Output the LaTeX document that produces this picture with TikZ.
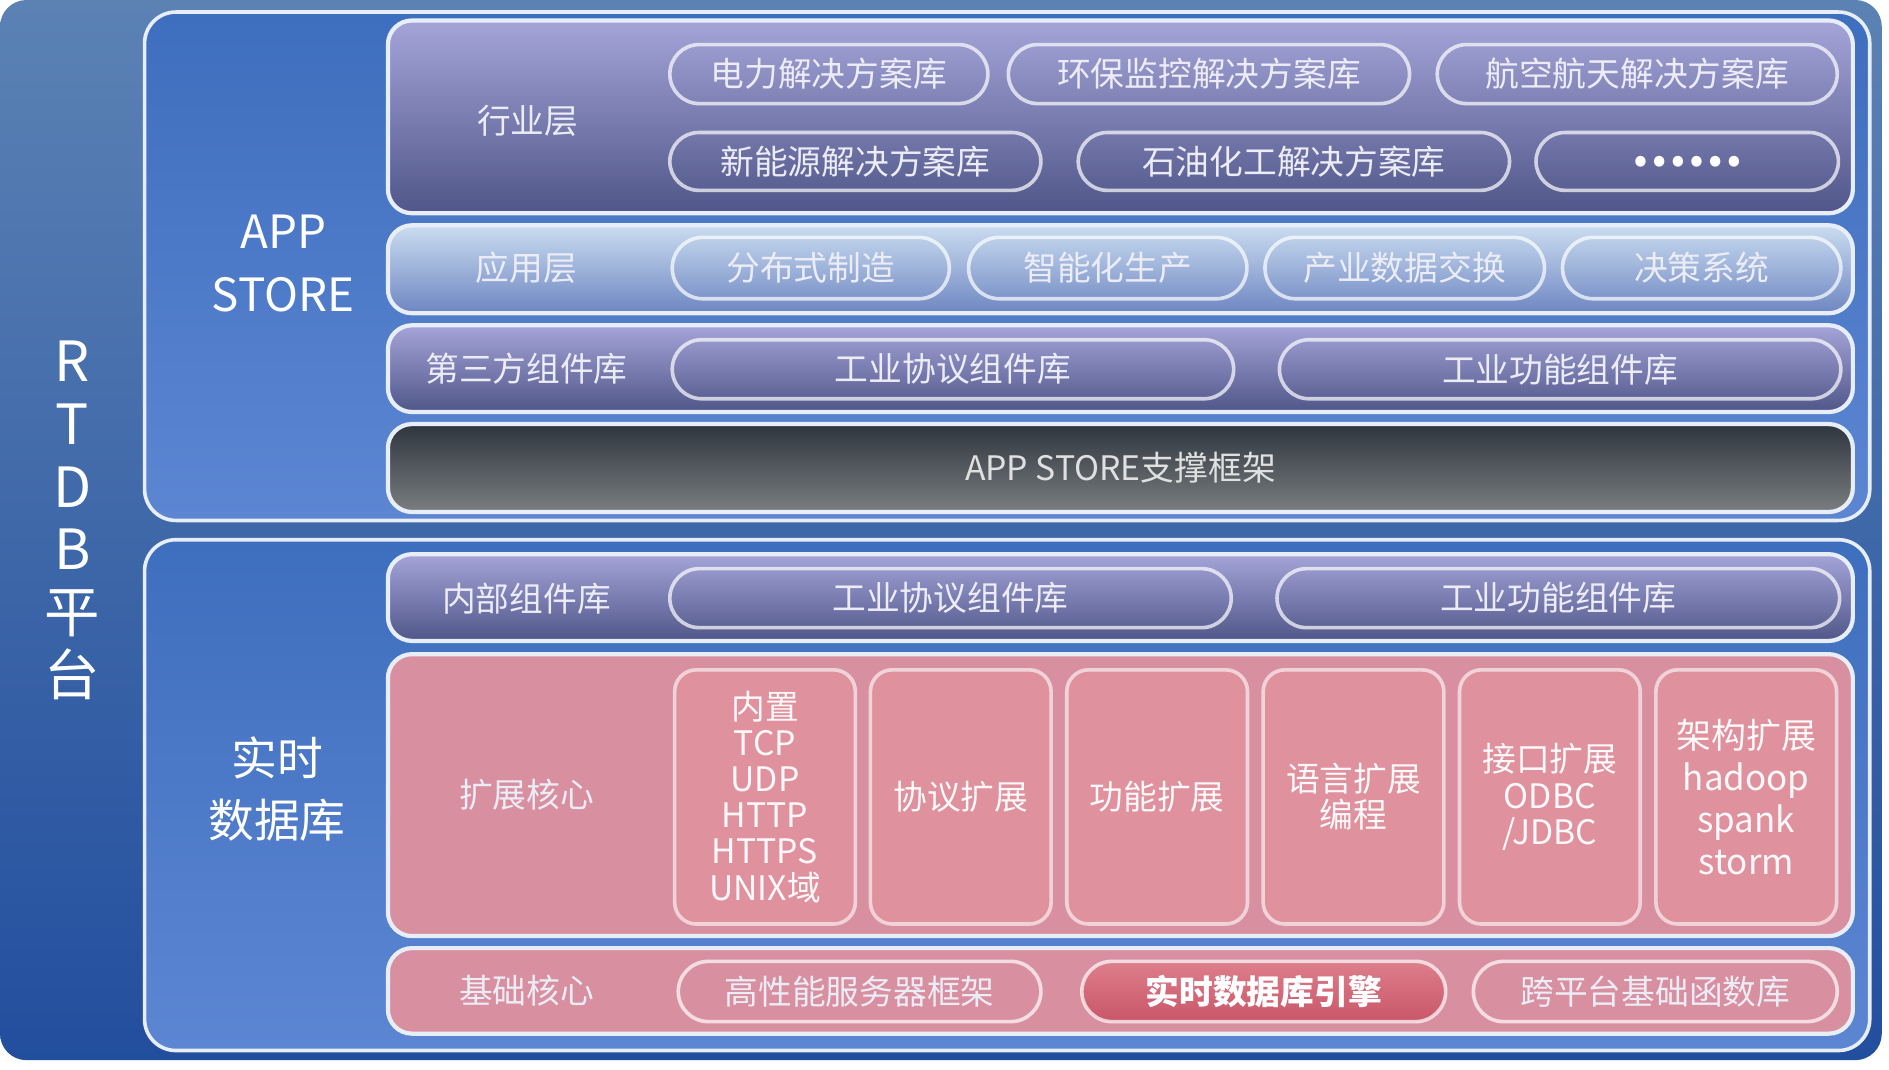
\documentclass[tikz,border=0pt]{standalone}
\usepackage{fontspec}
\setmainfont{Noto Sans CJK SC}
\usetikzlibrary{shapes.misc}
\definecolor{rtdbtop}{RGB}{92,130,180}
\definecolor{rtdbbottom}{RGB}{34,78,158}
\definecolor{paneltop}{RGB}{62,110,190}
\definecolor{panelbottom}{RGB}{92,134,210}
\definecolor{purpletop}{RGB}{164,164,216}
\definecolor{purplebottom}{RGB}{80,86,137}
\definecolor{apptop}{RGB}{202,221,240}
\definecolor{appbottom}{RGB}{110,134,194}
\definecolor{darktop}{RGB}{46,53,62}
\definecolor{darkbottom}{RGB}{122,126,128}
\definecolor{pinkrow}{RGB}{216,144,160}
\definecolor{pinkbox}{RGB}{224,145,158}
\definecolor{enginetop}{RGB}{222,126,140}
\definecolor{enginebottom}{RGB}{200,86,104}
\definecolor{linewhite}{RGB}{232,238,248}
\definecolor{labeltext}{RGB}{236,236,246}

\begin{document}
\begin{tikzpicture}[x=1pt,y=-1pt]
  \useasboundingbox (0,0) rectangle (1568,888);

	 \tikzstyle{frame}=[rectangle,rounded corners=22pt,top color=rtdbtop,bottom color=rtdbbottom,minimum width=1562pt,minimum height=880pt,inner sep=0pt]
	 \tikzstyle{panel}=[rectangle,rounded corners=26pt,draw=linewhite,line width=3pt,top color=paneltop,bottom color=panelbottom,minimum width=1432pt,inner sep=0pt]
	 \tikzstyle{row}=[rectangle,rounded corners=20pt,draw=linewhite,line width=3.5pt,minimum width=1216pt,inner sep=0pt]
	 \tikzstyle{purplerow}=[row,top color=purpletop,bottom color=purplebottom]
	 \tikzstyle{approw}=[row,top color=apptop,bottom color=appbottom]
	 \tikzstyle{darkrow}=[row,top color=darktop,bottom color=darkbottom,text=white!88!black,font=\fontsize{28}{30}\selectfont]
	 \tikzstyle{pinkrow}=[row,fill=pinkrow]
	 \tikzstyle{pill}=[rounded rectangle,draw=white,draw opacity=0.7,line width=3pt,inner sep=0pt,text=labeltext,font=\fontsize{28}{30}\selectfont]
	 \tikzstyle{extbox}=[rectangle,rounded corners=18pt,draw=white,draw opacity=0.6,line width=3pt,fill=pinkbox,minimum width=150pt,minimum height=211pt,inner sep=0pt,text=white!95!pinkbox,align=center,font=\fontsize{28}{30}\selectfont]
	 \tikzstyle{rowlabel}=[text=labeltext,font=\fontsize{28}{30}\selectfont]
	 \tikzstyle{panellabel}=[text=white,align=center,font=\fontsize{38}{52}\selectfont]

	 % outer platform frame
	 \node[frame] (rtdb) at (781,440) {};
	 \node[text=white,align=center,font=\fontsize{46}{52}\selectfont] (rtdblabel) at (60,432) {R\\T\\D\\B\\平\\台};

	 % APP STORE
	 \node[panel,minimum height=422pt] (appstore) at (836,221) {};
	 \node[panellabel] (appstorelabel) at (235,219) {APP\\STORE};

	 \node[purplerow,minimum height=160pt] (industry) at (930,97) {};
	 \node[rowlabel] (industrylabel) at (438,100) {行业层};
	 \node[pill,minimum width=264pt,minimum height=49pt] (power) at (688,61.5) {电力解决方案库};
	 \node[pill,minimum width=333pt,minimum height=49pt] (environ) at (1003.5,61.5) {环保监控解决方案库};
	 \node[pill,minimum width=332pt,minimum height=49pt] (aero) at (1359,61.5) {航空航天解决方案库};
	 \node[pill,minimum width=308pt,minimum height=48pt] (newenergy) at (710,134) {新能源解决方案库};
	 \node[pill,minimum width=358pt,minimum height=48pt] (petro) at (1074,134) {石油化工解决方案库};
	 \node[pill,minimum width=251pt,minimum height=48pt,text=white,font=\bfseries\fontsize{41}{41}\selectfont] (more) at (1400.5,134) {……};

	 \node[approw,minimum height=73pt] (application) at (930,223.5) {};
	 \node[rowlabel] (applicationlabel) at (437,222) {应用层};
	 \node[pill,minimum width=230pt,minimum height=51pt] (distributed) at (673,222.5) {分布式制造};
	 \node[pill,minimum width=231pt,minimum height=51pt] (smart) at (919.5,222.5) {智能化生产};
	 \node[pill,minimum width=232pt,minimum height=51pt] (exchange) at (1166,222.5) {产业数据交换};
	 \node[pill,minimum width=231pt,minimum height=51pt] (decision) at (1412.5,222.5) {决策系统};

	 \node[purplerow,minimum height=72pt] (thirdparty) at (930,306) {};
	 \node[rowlabel] (thirdpartylabel) at (437,306) {第三方组件库};
	 \node[pill,minimum width=466pt,minimum height=49pt] (tpprotocol) at (791,306.5) {工业协议组件库};
	 \node[pill,minimum width=466pt,minimum height=49pt] (tpfunction) at (1295,306.5) {工业功能组件库};

	 \node[darkrow,minimum height=73pt] (framework) at (930,388.5) {APP STORE支撑框架};

	 % real-time database
	 \node[panel,minimum height=424pt] (rtdatabase) at (836,660) {};
	 \node[panellabel] (rtdatabaselabel) at (230,655) {实时\\数据库};

	 \node[purplerow,minimum height=72pt] (internal) at (930,496) {};
	 \node[rowlabel] (internallabel) at (437,497) {内部组件库};
	 \node[pill,minimum width=466pt,minimum height=49pt] (inprotocol) at (789,496.5) {工业协议组件库};
	 \node[pill,minimum width=467pt,minimum height=49pt] (infunction) at (1293.5,496.5) {工业功能组件库};

	 \node[pinkrow,minimum height=234pt] (extcore) at (930,660) {};
	 \node[rowlabel] (extcorelabel) at (437,660) {扩展核心};
	 \node[extbox] (builtin) at (635,661.5) {内置\\TCP\\UDP\\HTTP\\HTTPS\\UNIX域};
	 \node[extbox] (protoext) at (797.5,661.5) {协议扩展};
	 \node[extbox] (funcext) at (960.5,661.5) {功能扩展};
	 \node[extbox] (langext) at (1123.5,661.5) {语言扩展\\编程};
	 \node[extbox] (ifaceext) at (1286.5,661.5) {接口扩展\\ODBC\\/JDBC};
	 \node[extbox,font=\fontsize{29}{35}\selectfont] (archext) at (1449.5,661.5) {架构扩展\\hadoop\\spank\\storm};

	 \node[pinkrow,minimum height=71pt] (basecore) at (930,822.5) {};
	 \node[rowlabel] (basecorelabel) at (437,822) {基础核心};
	 \node[pill,minimum width=301pt,minimum height=50pt] (server) at (713.5,823) {高性能服务器框架};
	 \node[pill,minimum width=302pt,minimum height=50pt,top color=enginetop,bottom color=enginebottom,text=white,font=\bfseries\fontsize{28}{30}\selectfont] (engine) at (1049,823) {实时数据库引擎};
	 \node[pill,minimum width=302pt,minimum height=50pt] (crossplat) at (1374,823) {跨平台基础函数库};

\end{tikzpicture}
\end{document}
